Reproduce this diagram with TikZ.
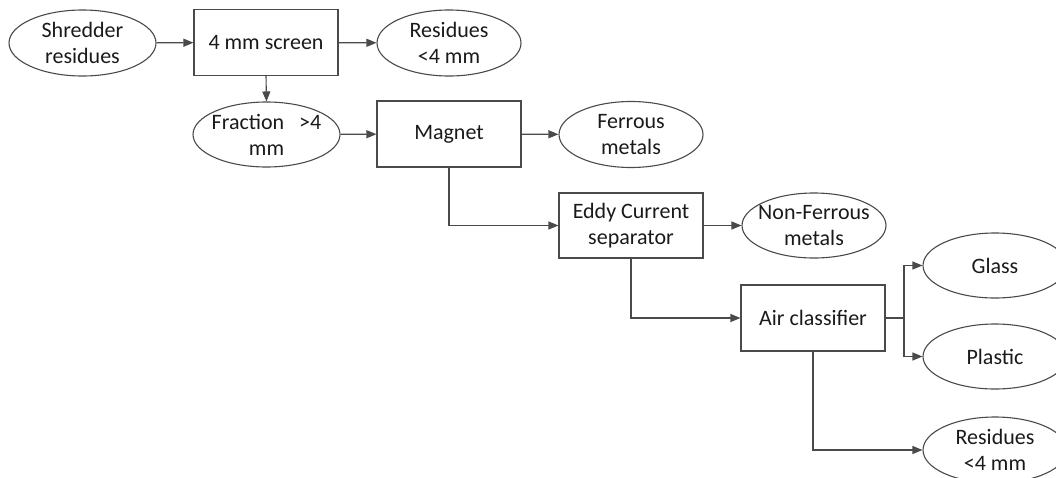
\documentclass[tikz,border=0pt]{standalone}
\usepackage{fontspec}
\setmainfont{Carlito}
\usetikzlibrary{shapes.geometric,arrows.meta}
\definecolor{ln}{HTML}{4A4A4A}
\definecolor{tx}{HTML}{1A1A1A}
\tikzset{
  base/.style={draw=ln, line width=1.1pt, text=tx, font=\fontsize{22}{26}\selectfont, align=center,
    minimum width=144pt, minimum height=66pt},
  proc/.style={base, rectangle, inner sep=0pt},
  prod/.style={base, ellipse, inner xsep=-24pt, inner ysep=-2pt},
  flow/.style={draw=ln, line width=1.1pt, -{Triangle[length=10pt,width=8pt]}}
}
\begin{document}
\begin{tikzpicture}[x=1pt,y=-1pt]
\useasboundingbox (0,0) rectangle (1056,477);
\node[prod, minimum width=147pt] (sr) at (82.5,43) {Shredder\\residues};
\node[proc] (scr) at (266,42.5) {4 mm screen};
\node[prod] (rt) at (449,43) {Residues\\<4 mm};
\node[prod, minimum width=147pt, minimum height=65pt] (fr) at (266.5,134.5) {Fraction\ \ \ >4\\mm};
\node[proc] (mag) at (449,134) {Magnet};
\node[prod] (fe) at (631,134.5) {Ferrous\\metals};
\node[proc, minimum height=65pt] (ec) at (631,225.5) {Eddy Current\\separator};
\node[prod, minimum height=65pt] (nf) at (814,225.5) {Non-Ferrous\\metals};
\node[proc] (ac) at (813,318) {Air classifier};
\node[prod, minimum height=65pt] (gl) at (995,265.5) {Glass};
\node[prod, minimum height=65pt] (pl) at (995,356.5) {Plastic};
\node[prod] (rb) at (995,450) {Residues\\<4 mm};
\coordinate (split) at (904,318);
\draw[flow] (sr) -- (scr);
\draw[flow] (scr) -- (rt);
\draw[flow] (scr.south) -- (fr.north);
\draw[flow] (fr) -- (mag);
\draw[flow] (mag) -- (fe);
\draw[flow] (mag.south) |- (ec.west);
\draw[flow] (ec) -- (nf);
\draw[flow] (ec.south) |- (ac.west);
\draw[draw=ln, line width=1.1pt] (ac.east) -- (split);
\draw[flow] (split) |- (gl.west);
\draw[flow] (split) |- (pl.west);
\draw[flow] (ac.south) |- (rb.west);
\end{tikzpicture}
\end{document}
